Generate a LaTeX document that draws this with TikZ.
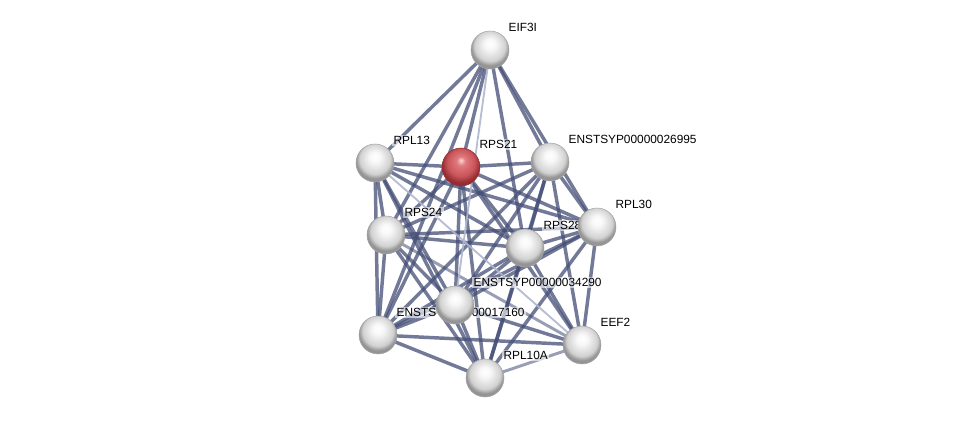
\documentclass[tikz,border=0pt]{standalone}
\usepackage{fontspec}
\setmainfont{Liberation Sans}
\pgfdeclarelayer{edgelayer}
\pgfdeclarelayer{labellayer}
\pgfsetlayers{edgelayer,labellayer,main}
\definecolor{rhi}{RGB}{250,215,215}
\definecolor{rmid}{RGB}{225,120,125}
\definecolor{rbody}{RGB}{200,85,90}
\definecolor{rrim}{RGB}{150,45,50}
\pgfdeclareradialshading{greysphere}{\pgfpoint{0bp}{9bp}}{%
 color(0bp)=(white); color(7bp)=(white!97!black); color(20bp)=(black!18); color(25bp)=(black!42); color(50bp)=(black!42)}
\pgfdeclareradialshading{redsphere}{\pgfpoint{0bp}{9bp}}{%
 color(0bp)=(rhi); color(6bp)=(rmid); color(18bp)=(rbody); color(25bp)=(rrim); color(50bp)=(rrim)}
\definecolor{edgec}{RGB}{68,78,118}
\definecolor{edgel}{RGB}{175,182,205}
\begin{document}
\begin{tikzpicture}[x=0.75pt,y=-0.75pt,
  prot/.style={circle,minimum size=28.5pt,inner sep=0pt,shading=greysphere,draw=black!35,line width=0.4pt},
  protred/.style={prot,shading=redsphere,draw=rrim},
  lab/.style={anchor=base west,font=\fontsize{8.9pt}{10pt}\selectfont,inner sep=1pt,fill=white,fill opacity=0.6,text opacity=1},
  es/.style={draw=edgec,line width=2.6pt,draw opacity=0.75},
  em/.style={draw=edgec,line width=2.2pt,draw opacity=0.55},
  el/.style={draw=edgel,line width=1.4pt,draw opacity=0.9}]
\useasboundingbox (0,0) rectangle (976,424);
% nodes
\node[prot] (A) at (490,50) {};
\node[prot] (B) at (375,163) {};
\node[protred] (C) at (461,167) {};
\node[prot] (D) at (550,162) {};
\node[prot] (E) at (597,227) {};
\node[prot] (F) at (386,235) {};
\node[prot] (G) at (525,248) {};
\node[prot] (I) at (378,335) {};
\node[prot] (H) at (455,305) {};
\node[prot] (J) at (582,345) {};
\node[prot] (K) at (485,378) {};
% labels
\begin{pgfonlayer}{labellayer}
\node[lab] (lA) at ([shift={(17,-18)}]A.center) {EIF3I};
\node[lab] (lB) at ([shift={(17,-18)}]B.center) {RPL13};
\node[lab] (lC) at ([shift={(17,-18)}]C.center) {RPS21};
\node[lab] (lD) at ([shift={(17,-18)}]D.center) {ENSTSYP00000026995};
\node[lab] (lE) at ([shift={(17,-18)}]E.center) {RPL30};
\node[lab] (lF) at ([shift={(17,-18)}]F.center) {RPS24};
\node[lab] (lG) at ([shift={(17,-18)}]G.center) {RPS28};
\node[lab] (lH) at ([shift={(17,-18)}]H.center) {ENSTSYP00000034290};
\node[lab] (lI) at ([shift={(17,-18)}]I.center) {ENSTSYP00000017160};
\node[lab] (lJ) at ([shift={(17,-18)}]J.center) {EEF2};
\node[lab] (lK) at ([shift={(17,-18)}]K.center) {RPL10A};
\end{pgfonlayer}
% edges
\begin{pgfonlayer}{edgelayer}
\foreach \a/\b in {A/B,A/C,A/D,A/E,A/F,A/G,A/I,
  B/C,C/D,B/F,B/I,B/G,B/E,B/H,B/K,
  C/F,C/G,C/H,C/I,C/E,C/K,C/J,
  D/E,D/G,D/H,D/I,D/F,D/J,D/K,
  E/G,E/H,E/J,E/F,E/K,E/I,
  F/G,F/H,F/I,F/K,
  G/H,G/I,G/J,G/K,
  H/I,H/K,H/J,I/K,I/J}
  \path[es] (\a.center) -- (\b.center);
\foreach \a/\b in {F/J,J/K}
  \path[em] (\a.center) -- (\b.center);
\foreach \a/\b in {A/H,B/J}
  \path[el] (\a.center) -- (\b.center);
\end{pgfonlayer}
\end{tikzpicture}
\end{document}
